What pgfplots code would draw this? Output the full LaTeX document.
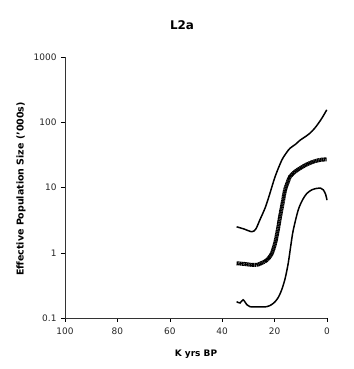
\documentclass[border=0pt]{standalone}
\usepackage{fontspec}
\setmainfont{DejaVu Sans}
\usepackage{pgfplots}
\pgfplotsset{compat=1.18}
\begin{document}
\begin{tikzpicture}
\useasboundingbox (0,0) rectangle (354bp,369bp);
\begin{axis}[
  at={(65bp,51bp)}, anchor=south west,
  scale only axis, width=262bp, height=261bp,
  xmin=0, xmax=100, x dir=reverse,
  ymode=log, ymin=0.1, ymax=1000,
  axis lines*=left,
  xtick={0,20,40,60,80,100},
  ytick={0.1,1,10,100,1000},
  yticklabels={0.1,1,10,100,1000},
  /pgf/number format/assume math mode=true,
  tick style={black, thin},
  tick align=outside,
  major tick length=4bp,
  minor tick num=0,
  yminorticks=false,
  tick label style={font=\fontsize{9}{10}\selectfont, text=black!85},
  xticklabel style={yshift=-2bp},
  yticklabel style={xshift=-1bp},
  axis line style={black!80, line width=0.6pt},
  clip=false,
]
\addplot[black, line width=1.5pt, smooth] coordinates {
(34.5,2.5) (31.5,2.3) (28.7,2.1) (27.2,2.3) (25.6,3.2) (23.5,5.0) (21.8,8.1) (19.8,14.7) (17.3,26) (15.5,34) (14.1,40) (12.0,46) (10.3,53) (8.3,60) (6.5,68) (4.8,80) (3.3,96) (1.8,118) (0.1,155)
};
\addplot[black, line width=4pt, dash pattern=on 1.3pt off 0.4pt, smooth] coordinates {
(34.5,0.69) (31,0.67) (28.5,0.65) (26.8,0.65) (24.8,0.70) (23,0.77) (21.2,0.95) (19.8,1.4) (18.8,2.2) (17.9,3.6) (17,5.6) (16,9.2) (15,12) (14.1,14.7) (12.2,17.5) (10.3,19.7) (7.8,22.5) (5.2,24.9) (2.6,26.5) (0.1,27)
};
\addplot[black, line width=1.5pt, smooth] coordinates {
(34.5,0.178) (33.2,0.17) (32,0.19) (30.6,0.16) (29.4,0.149) (26,0.148) (23,0.149) (21.2,0.16) (19.8,0.178) (18.5,0.21) (17.3,0.27) (16,0.4) (14.8,0.69) (13.8,1.3) (12.9,2.2) (11,4.5) (9.3,6.5) (7.7,8.1) (5.8,9.2) (3.9,9.7) (2.5,9.8) (1.4,9.2) (0.5,7.8) (0,6.4)
};
\end{axis}
\node[font=\bfseries\fontsize{12}{14}\selectfont] at (182bp,344bp) {L2a};
\node[font=\bfseries\fontsize{9}{10}\selectfont] at (196bp,15bp) {K yrs BP};
\node[font=\bfseries\fontsize{9.5}{11}\selectfont, rotate=90] at (21bp,180bp) {Effective Population Size ('000s)};
\end{tikzpicture}
\end{document}
